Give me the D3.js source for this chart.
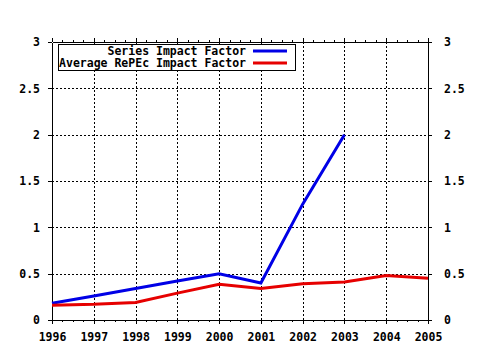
<!DOCTYPE html>
<html><head><meta charset="utf-8">
<script src="https://cdn.jsdelivr.net/npm/d3@7"></script>
<style>
html,body{margin:0;padding:0;background:#fff;}
text{font-family:"DejaVu Sans Mono",monospace;font-weight:bold;font-size:11.5px;fill:#000;}
</style></head>
<body><svg id="c" width="480" height="350"></svg>
<script>
const years = [1996,1997,1998,1999,2000,2001,2002,2003,2004,2005];
const seriesYears = [1996,1997,1998,1999,2000,2001,2002,2003];
const seriesIF = [0.18,0.26,0.34,0.42,0.50,0.40,1.25,2.00];
const avgIF = [0.16,0.17,0.19,0.29,0.385,0.34,0.39,0.41,0.48,0.45];
const yTicks = [0,0.5,1,1.5,2,2.5,3];
const seriesNames = ["Series Impact Factor","Average RePEc Impact Factor"];
const seriesColors = ["#0000e6","#e60000"];

const svg = d3.select("#c");
const x = d3.scaleLinear().domain([1996,2005]).range([52,428]);
const y = d3.scaleLinear().domain([0,3]).range([320,42]);
const minorX = d3.range(1996,2005.001,0.25).filter(v=>Math.abs(v-Math.round(v))>1e-6);
const fmt = d => d===0?"0":String(d);

// grid
const grid = svg.append("g").attr("stroke","#000").attr("stroke-width",1).attr("stroke-dasharray","2,2").attr("shape-rendering","crispEdges");
grid.selectAll("line.v").data(years.slice(1,-1)).join("line")
  .attr("x1",d=>Math.round(x(d))+0.5).attr("x2",d=>Math.round(x(d))+0.5).attr("y1",y(3)).attr("y2",y(0));
grid.selectAll("line.h").data(yTicks.slice(1,-1)).join("line")
  .attr("y1",d=>Math.round(y(d))+0.5).attr("y2",d=>Math.round(y(d))+0.5).attr("x1",x(1996)).attr("x2",x(2005));

function styleAxis(g){g.selectAll("path,line").attr("stroke","#000").attr("shape-rendering","crispEdges");g.selectAll("text").attr("font-family",null).attr("font-size",null).attr("fill","#000");}

// bottom axis
svg.append("g").attr("transform",`translate(0,${y(0)})`)
  .call(d3.axisBottom(x).tickValues(years).tickFormat(d3.format("d")).tickSize(4).tickSizeOuter(0).tickPadding(9)).call(styleAxis);
svg.append("g").attr("transform",`translate(0,${y(0)})`)
  .call(d3.axisBottom(x).tickValues(minorX).tickFormat("").tickSize(2).tickSizeOuter(0)).call(styleAxis);
// top axis
svg.append("g").attr("transform",`translate(0,${y(3)})`)
  .call(d3.axisTop(x).tickValues(years).tickFormat("").tickSize(4).tickSizeOuter(0)).call(styleAxis);
svg.append("g").attr("transform",`translate(0,${y(3)})`)
  .call(d3.axisTop(x).tickValues(minorX).tickFormat("").tickSize(2).tickSizeOuter(0)).call(styleAxis);
// left axis
svg.append("g").attr("transform",`translate(${x(1996)},0)`)
  .call(d3.axisLeft(y).tickValues(yTicks).tickFormat(fmt).tickSize(4).tickSizeOuter(0).tickPadding(8)).call(styleAxis);
// right axis
svg.append("g").attr("transform",`translate(${x(2005)},0)`)
  .call(d3.axisRight(y).tickValues(yTicks).tickFormat(fmt).tickSize(4).tickSizeOuter(0).tickPadding(12)).call(styleAxis);

// lines
const line = d3.line().x(d=>x(d[0])).y(d=>y(d[1]));
const data = [seriesYears.map((yr,i)=>[yr,seriesIF[i]]), years.map((yr,i)=>[yr,avgIF[i]])];
svg.append("g").selectAll("path").data(data).join("path")
  .attr("d",line).attr("fill","none").attr("stroke",(d,i)=>seriesColors[i]).attr("stroke-width",3);

// legend
const lg = svg.append("g");
lg.append("rect").attr("x",58.5).attr("y",44.5).attr("width",237).attr("height",26)
  .attr("fill","#fff").attr("stroke","#000").attr("shape-rendering","crispEdges");
seriesNames.forEach((n,i)=>{
  lg.append("text").attr("x",246).attr("y",55.3+i*11.7).attr("text-anchor","end").text(n);
  lg.append("line").attr("x1",253).attr("x2",287).attr("y1",51+i*12).attr("y2",51+i*12)
    .attr("stroke",seriesColors[i]).attr("stroke-width",3);
});
</script></body></html>
